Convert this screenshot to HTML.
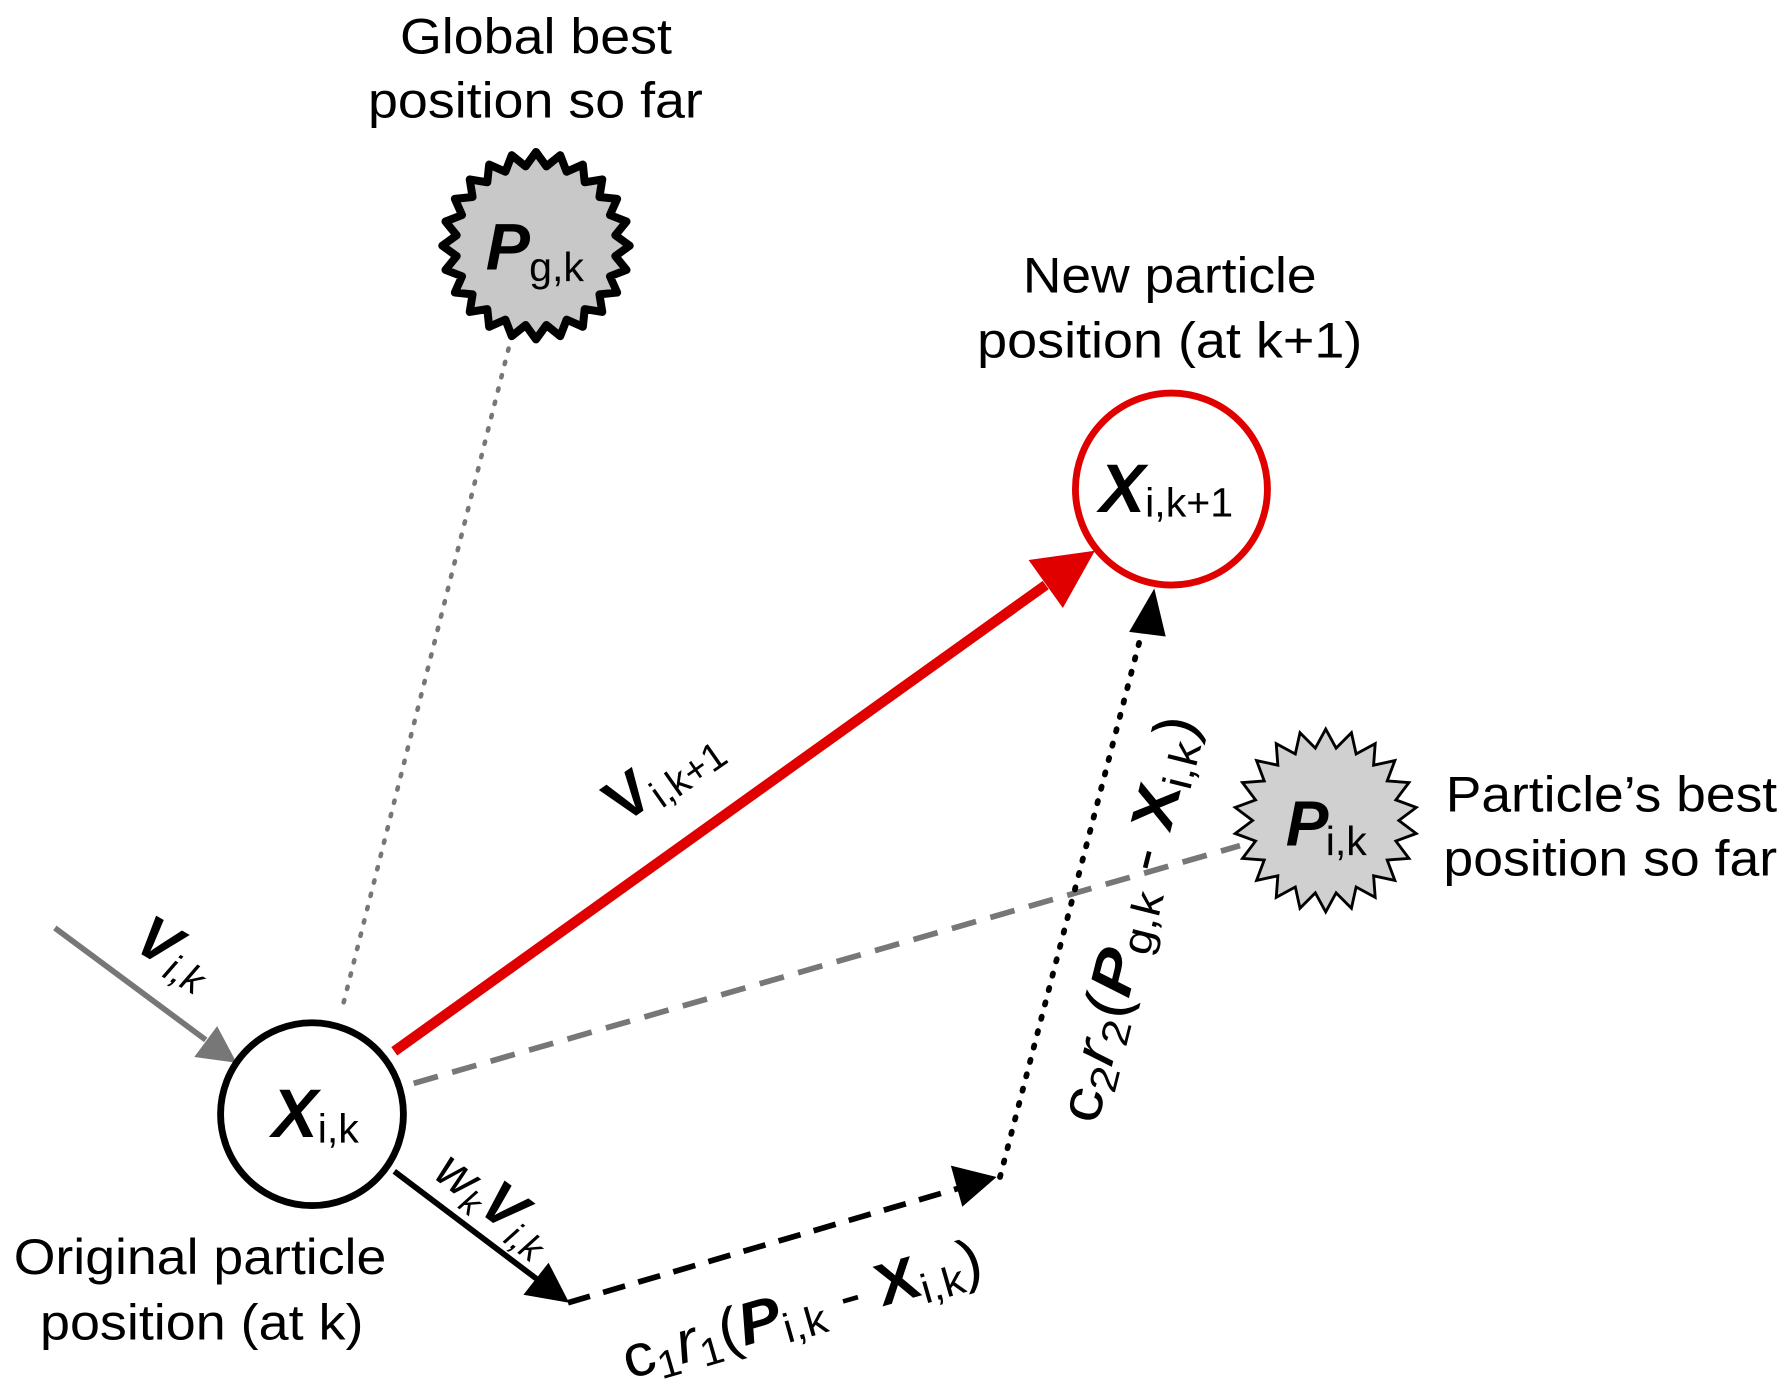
<!DOCTYPE html>
<html><head><meta charset="utf-8"><style>html,body{margin:0;padding:0;background:#fff}svg{display:block}
text{font-family:"Liberation Sans",Arial,sans-serif}</style></head><body>
<svg id="s" width="1792" height="1393" viewBox="0 0 1568 1219" preserveAspectRatio="none" xmlns="http://www.w3.org/2000/svg">
<rect width="1568" height="1219" fill="#fff"/>
<g font-size="44" fill="#000" lengthAdjust="spacingAndGlyphs">
<text x="350" y="47" textLength="238" lengthAdjust="spacingAndGlyphs">Global best</text>
<text x="322" y="103" textLength="293" lengthAdjust="spacingAndGlyphs">position so far</text>
<text x="895" y="256" textLength="257" lengthAdjust="spacingAndGlyphs">New particle</text>
<text x="855" y="313" textLength="337" lengthAdjust="spacingAndGlyphs">position (at k+1)</text>
<text x="12" y="1115" textLength="326" lengthAdjust="spacingAndGlyphs">Original particle</text>
<text x="35" y="1172" textLength="283" lengthAdjust="spacingAndGlyphs">position (at k)</text>
<text x="1265" y="710" textLength="290" lengthAdjust="spacingAndGlyphs">Particle’s best</text>
<text x="1263" y="766" textLength="292" lengthAdjust="spacingAndGlyphs">position so far</text>
</g>
<line x1="445" y1="305" x2="300" y2="880" stroke="#777" stroke-width="4" stroke-dasharray="2,10" stroke-linecap="round"/>
<line x1="362" y1="948" x2="1085" y2="740" stroke="#777" stroke-width="5" stroke-dasharray="22,13"/>
<line x1="345" y1="920" x2="915" y2="512" stroke="#e00000" stroke-width="9"/>
<polygon points="958,482 900,490 930,532" fill="#e00000"/>
<line x1="48" y1="812" x2="180" y2="910" stroke="#777" stroke-width="5"/>
<polygon points="207,930 170,925 190,898" fill="#777"/>
<line x1="345" y1="1025" x2="472" y2="1121" stroke="#000" stroke-width="5"/>
<polygon points="498,1140 458,1133 480,1105" fill="#000"/>
<line x1="497" y1="1140" x2="845" y2="1038" stroke="#000" stroke-width="5" stroke-dasharray="20,12"/>
<polygon points="872,1030 832,1020 842,1056" fill="#000"/>
<line x1="875" y1="1030" x2="1000" y2="550" stroke="#000" stroke-width="5" stroke-dasharray="2,11" stroke-linecap="round"/>
<polygon points="1010,515 988,553 1020,557" fill="#000"/>
<circle cx="273" cy="975" r="80" fill="#fff" stroke="#000" stroke-width="6"/>
<circle cx="1025" cy="428" r="84" fill="#fff" stroke="#e00000" stroke-width="6"/>
<polygon id="st1" fill="#c8c8c8" stroke="#000" stroke-width="7" stroke-linejoin="round"/>
<polygon id="st2" fill="#d0d0d0" stroke="#000" stroke-width="2.5"/>
<g font-weight="bold" font-style="italic">
<text x="238" y="995" font-size="60">X</text>
<text x="962" y="448" font-size="60">X</text>
<text x="425" y="236" font-size="58">P</text>
<text x="1125" y="740" font-size="56">P</text>
</g>
<g font-size="36">
<text x="278" y="1000">i,k</text>
<text x="1002" y="452">i,k+1</text>
<text x="463" y="246">g,k</text>
<text x="1160" y="748">i,k</text>
</g>
<text transform="translate(115,830) rotate(30)" font-size="52" font-weight="bold" font-style="italic">V<tspan font-size="34" font-weight="normal" dy="8">i,k</tspan></text>
<text transform="translate(545,722) rotate(-35)" font-size="54" font-weight="bold">V<tspan font-size="34" font-weight="normal" dy="8">i,k+1</tspan></text>
<text transform="translate(378,1030) rotate(37)" font-size="46" font-style="italic">w<tspan font-size="30" dy="8">k</tspan><tspan font-size="52" font-weight="bold" dy="-8">V</tspan><tspan font-size="32" dy="8">i,k</tspan></text>
<text transform="translate(550,1207) rotate(-16)" font-size="52" textLength="325" lengthAdjust="spacingAndGlyphs">c<tspan font-size="34" dy="8">1</tspan><tspan dy="-8" font-style="italic">r</tspan><tspan font-size="34" dy="8">1</tspan><tspan dy="-8">(</tspan><tspan font-weight="bold" font-style="italic">P</tspan><tspan font-size="36" dy="8">i,k</tspan><tspan dy="-8"> - </tspan><tspan font-weight="bold">X</tspan><tspan font-size="36" dy="8">i,k</tspan><tspan dy="-8">)</tspan></text>
<text transform="translate(960,985) rotate(-76)" font-size="52" textLength="365" lengthAdjust="spacingAndGlyphs">c<tspan font-size="34" dy="8">2</tspan><tspan dy="-8" font-style="italic">r</tspan><tspan font-size="34" dy="8">2</tspan><tspan dy="-8">(</tspan><tspan font-weight="bold" font-style="italic">P</tspan><tspan font-size="36" dy="8">g,k</tspan><tspan dy="-8"> - </tspan><tspan font-weight="bold">X</tspan><tspan font-size="36" dy="8">i,k</tspan><tspan dy="-8">)</tspan></text>
</svg>
<script>
function star(id,cx,cy,ro,ri,n){var p=[];for(var i=0;i<2*n;i++){var a=Math.PI*i/n-Math.PI/2;var r=i%2?ri:ro;p.push((cx+r*Math.cos(a)).toFixed(1)+","+(cy+r*Math.sin(a)).toFixed(1));}document.getElementById(id).setAttribute("points",p.join(" "));}
star("st1",469,215,82,70,24);star("st2",1160,718,80,64,22);
</script>
</body></html>
